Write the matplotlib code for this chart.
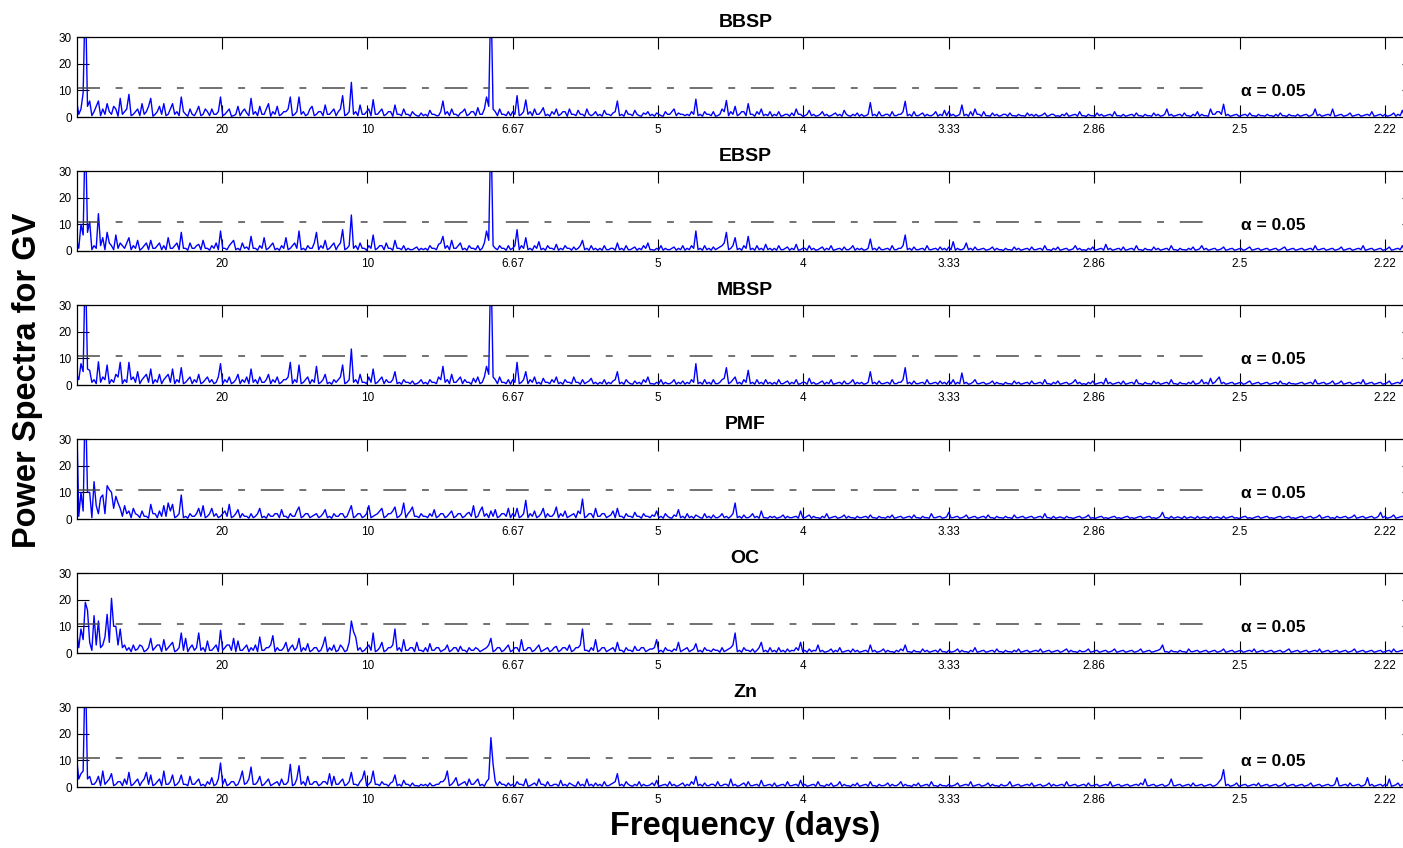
import numpy as np
import matplotlib
matplotlib.use("Agg")
import matplotlib.pyplot as plt

plt.rcParams['font.family'] = ['Liberation Sans', 'DejaVu Sans']

# spectral power per frequency bin (cycles/day, bin width FREQ_STEP)
FREQ_STEP = 0.00075
N_BINS = 614

bbsp = [
    6,1, 3,9, 48,4, 6,0.5, 2,4, 6,0.5, 3,1, 5,2, 1,4, 3,0.3, 7,1, 2,3, 8.5,0.5, 1,2, 3,0.5, 5,1, 2,4, 7,0.3, 1,2, 4,1,
    5,0.5, 1,3, 5,1, 2,0.5, 7.5,2, 1,0.3, 3,1, 0.5,2, 4,0.5, 1,3, 2,0.5, 3,1, 1,2, 7.5,0.5, 1,2, 3,0.3, 0.5,1, 4,0.5, 2,3, 1.5,0.5,
    7,1, 2,0.5, 4,1, 1,3, 5,0.3, 2,1, 4,0.5, 1,2, 2,3, 7.5,0.5, 1,2, 7.5,1, 2,0.5, 1,3, 4,0.5, 1,2, 2,0.5, 4.5,1, 1,2, 3,0.5,
    2,3, 8,0.5, 1,2, 13,1, 2,0.5, 4.5,1, 1,2, 3,0.5, 6.5,1, 1,2, 3,0.5, 1,2, 2,0.3, 4.5,1, 1,0.5, 3,1, 1,0.3, 2,1, 0.5,0.3, 1.5,0.5,
    1,0.3, 2.5,1, 1,0.5, 0.5,2, 6,1, 2,0.5, 3,1, 1,0.3, 1.5,2, 3,0.5, 1,2, 2,0.5, 3.5,1, 1,3, 7.5,4, 48,3, 2,0.5, 3,1, 1,0.5, 2,0.5,
    2,1, 8,0.5, 1,2, 6.4,1, 2,0.5, 3,1, 1,2, 3.5,0.5, 1,0.3, 2,1, 3,0.5, 1,2, 2,0.3, 3,1, 1,0.5, 2.5,1, 1,0.3, 3,1, 0.5,1, 2,0.5,
    1,0.3, 2.5,1, 1,0.5, 1.5,2, 6,0.5, 1,0.3, 2.5,1, 1,0.5, 2.5,1, 0.5,0.3, 1.5,1, 2,0.5, 1,0.3, 1.5,1, 0.5,0.3, 2,1, 1,2, 3,0.5, 1.5,1, 1,0.5,
    1,0.5, 2,1, 6.7,0.5, 1,0.3, 2,1, 1,0.5, 2,0.3, 0.5,1, 3,2, 6.2,0.5, 2,1, 4,0.5, 1,2, 2,0.5, 5,1, 1,0.3, 2,1, 3,0.5, 1,0.5, 2,0.3,
    1,0.5, 2,0.3, 0.5,1, 1,0.3, 1.5,0.5, 3,1, 1,0.3, 0.5,1, 2.5,0.5, 1,0.3, 0.5,1, 2,0.5, 1,0.3, 0.5,1, 1.5,0.5, 1,0.3, 2.5,1, 0.5,0.3, 1,0.5, 1.5,0.3,
    1,0.3, 0.5,1, 5.4,0.5, 1,0.3, 2,0.5, 0.5,1, 1,0.3, 2,0.5, 0.5,1, 1,2, 5.9,0.5, 1,0.3, 2,0.5, 0.5,1, 1.5,0.3, 1,0.5, 0.5,1, 2,0.3, 1,0.5, 2.5,0.5,
    2,0.5, 1,0.3, 0.5,1, 4.5,0.5, 1,0.3, 2,0.5, 3,1, 1,0.3, 2,0.5, 0.5,0.3, 1.5,0.5, 1,0.3, 0.5,1, 1,0.3, 1.5,0.5, 0.5,0.3, 1,0.5, 0.5,0.3, 1.5,0.5, 1,0.3,
    1,0.3, 0.5,0.8, 1.5,0.3, 0.5,1, 1,0.3, 0.5,0.2, 1,0.5, 1.5,0.3, 0.5,0.8, 1,0.3, 2,0.5, 0.5,0.2, 1,0.5, 0.5,0.3, 1.5,0.5, 1,0.3, 0.5,0.8, 1,0.3, 2,0.5, 0.5,0.3,
    1,0.3, 0.5,0.8, 1,0.3, 1.5,0.5, 0.5,0.2, 1,0.5, 0.5,0.3, 1.5,0.5, 1,0.3, 0.5,1, 3,0.5, 1,0.3, 0.5,0.8, 1,0.3, 1.5,0.5, 0.5,0.2, 1,0.5, 2,0.3, 1,0.5, 0.5,0.3,
    3,1, 1,2, 2,1, 4.8,0.5, 1,0.3, 0.5,0.8, 1,0.3, 0.5,0.8, 1,0.3, 1.5,0.5, 0.5,0.2, 1,0.5, 0.5,0.3, 1,0.5, 0.5,0.2, 1,0.3, 1.5,0.5, 0.5,0.2, 1,0.5, 0.5,0.3,
    1,0.3, 0.5,0.8, 1,0.3, 0.5,1, 3,0.5, 1,0.3, 0.5,0.8, 1,0.5, 3,0.3, 0.5,0.8, 1,0.3, 0.5,0.8, 1.5,0.3, 0.5,0.8, 1,0.3, 0.5,0.8, 1,0.5, 2,0.3, 0.5,0.8, 1,0.3,
    1,0.3, 0.5,0.8, 1.5,0.3, 1,0.5, 2.5,0.3, 0.5,0.8, 1,0.3,
]

ebsp = [
    4,1, 10,6, 48,7, 11,0.5, 2,1, 14,2, 5,0.5, 7,3, 2,0.5, 6,1, 3,2, 1,3, 5,0.5, 2,1, 4,0.3, 1,2, 3,0.5, 4,1, 1,2, 3,0.5,
    2,0.5, 5,1, 1,2, 3,0.5, 7,1, 1,0.3, 3,1, 1,2, 2.5,0.5, 4,1, 1,0.3, 2,1, 3,0.5, 7.5,1, 1,0.5, 2,3, 4,0.5, 1,0.3, 3,1, 1.5,0.5,
    5.5,1, 1,0.3, 2,1, 5,0.5, 1,2, 3,0.5, 1,0.3, 2,1, 5,0.5, 1,2, 3,1, 7.5,0.5, 1,0.3, 2,1, 1,3, 7,0.5, 2,1, 4,0.5, 1,2, 3,0.5,
    2,3, 8,0.5, 1,2, 13.5,1, 2,0.5, 3,1, 1,0.3, 2,1, 6,0.5, 1,2, 2,0.5, 3,1, 1,0.3, 4,1, 1,0.5, 2,0.3, 1,0.5, 0.5,1, 1.5,0.3, 1,0.5,
    1,0.3, 2,1, 1,0.5, 2.5,3, 5.5,1, 2,0.5, 4,1, 1,2, 3,0.5, 1,0.3, 2,1, 1,0.5, 2,0.3, 1,3, 7.5,4, 48,2, 1,0.5, 2,1, 1,0.3, 2,0.5,
    1,2, 8,0.5, 2,1, 5,0.5, 1,0.3, 2,1, 3.5,0.5, 1,0.3, 2,1, 1,0.5, 2.5,0.3, 1,0.5, 2,1, 1,0.3, 1.5,0.5, 1,2, 4,0.5, 1,0.3, 2,0.5, 1,0.3,
    1,0.3, 2,0.5, 0.5,1, 1,0.3, 3,0.5, 1,0.3, 2,0.5, 0.5,1, 1.5,0.3, 1,0.5, 2,1, 3,0.5, 0.5,0.3, 1,0.5, 2,0.3, 1,0.5, 0.5,1, 1.5,0.3, 1,0.5, 2,0.3,
    1,0.5, 2,1, 7.5,0.5, 1,0.3, 2,0.5, 1,0.3, 1.5,0.5, 1,1.5, 2,3, 7,0.5, 1,2, 5,0.5, 1,0.3, 2,1, 5.5,0.5, 1,0.3, 2,0.5, 1,0.3, 2.5,0.5, 1,0.3,
    1,0.3, 2,0.5, 0.5,1, 1.5,0.3, 1,0.5, 2.5,0.3, 0.5,1, 1,0.3, 2,0.5, 1,0.3, 0.5,1, 1.5,0.3, 1,0.5, 2,0.3, 0.5,0.8, 1,0.3, 1.5,0.5, 0.5,1, 2,0.3, 1,0.5,
    1,0.3, 0.5,1, 4.5,0.5, 1,0.3, 1.5,0.5, 0.5,0.8, 1,0.3, 2,0.5, 0.5,1, 1,2, 6,0.5, 1,0.3, 1.5,0.5, 0.5,0.8, 1,0.3, 2,0.5, 0.5,0.8, 1,0.3, 1.5,0.5, 1,0.3,
    1.5,0.5, 3.5,0.3, 1,0.5, 0.5,1, 3,0.5, 1,0.3, 1.5,0.5, 0.5,0.8, 1,0.3, 0.5,0.8, 1.5,0.3, 1,0.5, 0.5,0.2, 1,0.5, 0.5,0.3, 1.5,0.5, 1,0.3, 0.5,0.8, 1,0.3, 1.5,0.5,
    0.5,0.8, 1,0.3, 2,0.5, 0.5,0.2, 1,0.5, 1.5,0.3, 0.5,0.8, 1,0.3, 0.5,0.8, 2,0.5, 1,0.3, 0.5,0.2, 1,0.5, 1.5,0.3, 0.5,0.8, 1,0.3, 2.5,0.5, 1,0.3, 0.5,0.8, 1,0.3,
    1.5,0.3, 0.5,0.8, 1,0.3, 2,0.5, 0.5,0.2, 1,0.5, 0.5,0.3, 1.5,0.5, 1,0.3, 0.5,0.8, 1,0.3, 2,0.5, 0.5,0.2, 1,0.5, 0.5,0.3, 1,0.5, 1.5,0.3, 0.5,0.8, 2,0.5, 1,0.3,
    0.5,0.8, 1,0.3, 0.5,0.8, 1.5,0.3, 0.5,0.8, 1,0.3, 0.5,0.8, 1,0.3, 0.5,1, 1.5,0.3, 0.5,0.8, 1,0.3, 0.5,0.8, 1,0.3, 0.5,0.8, 1,0.3, 0.5,1, 1.5,0.3, 0.5,0.8, 1,0.3,
    0.5,0.8, 1,0.3, 0.5,0.8, 1,0.3, 2,0.5, 0.5,0.8, 1,0.3, 0.5,0.8, 1,0.3, 0.5,0.8, 1.5,0.3, 0.5,0.8, 1,0.3, 0.5,0.8, 1,0.5, 2,0.3, 0.5,0.8, 1,0.3, 0.5,0.8, 1,0.3,
    0.5,0.8, 1.5,0.3, 0.5,0.8, 1,0.5, 2,0.3, 0.5,0.8, 1,0.3,
]

mbsp = [
    4,2, 8,5, 48,6, 5.5,1, 2,0.5, 8.7,1, 3,2, 7.5,0.5, 2,1, 4,3, 8.5,0.5, 2,1, 8.5,2, 3,1, 5,0.5, 2,3, 4,1, 6,0.5, 2,1, 4,0.5,
    2,3, 4,1, 6,0.5, 2,1, 6.5,0.5, 1,2, 3,0.5, 2,1, 4,0.5, 1,2, 3,1, 2,0.5, 1,3, 8,0.5, 2,1, 3,0.5, 1,2, 4,0.5, 2,1, 3,0.5,
    6,1, 2,0.5, 3,1, 1,2, 4,0.5, 2,1, 3,0.5, 1,2, 2,3, 8.5,0.5, 2,1, 7.5,0.5, 1,2, 3,0.5, 2,1, 7,0.5, 1,2, 4,0.5, 1,0.3, 2,1,
    2,3, 7.5,0.5, 1,2, 13.5,1, 2,0.5, 4,1, 1,0.5, 3,1, 6,0.5, 1,2, 3,0.5, 2,1, 1,2, 5,0.5, 1,0.3, 2,1, 1,0.5, 1.5,0.3, 0.5,1, 2,0.5,
    1,0.3, 2,1, 1,0.5, 3,2, 7,1, 2,0.5, 4,1, 1,2, 3,0.5, 2,1, 1,0.3, 2.5,1, 3,0.5, 1,3, 7,4, 48,3, 2,0.5, 3,1, 1,0.5, 2,0.3,
    2,1, 8.5,0.5, 1,2, 5,0.5, 2,1, 3,0.5, 1,0.3, 2.5,1, 1,0.5, 2,1, 3,0.5, 1,0.3, 2,1, 1,0.5, 3,1, 1,0.3, 2,0.5, 1,1.5, 2.5,0.5, 1,0.3,
    1,0.5, 2,0.3, 1,0.5, 1.5,2, 5,0.5, 1,0.3, 2,1, 0.5,0.3, 1.5,0.5, 1,0.3, 2,1, 3,0.5, 0.5,0.3, 1,0.5, 2,0.3, 1,0.5, 0.5,1, 2,0.3, 1,0.5, 1.5,0.3,
    1,0.5, 2,1, 8,0.5, 1,0.3, 2,0.5, 1,0.3, 2,0.5, 0.5,1, 2,2.5, 6.5,0.5, 1,2, 3,0.5, 1,0.3, 2,1, 5.5,0.5, 1,0.3, 2,0.5, 1,0.3, 2,0.5, 1,0.3,
    1,0.3, 2,0.5, 0.5,1, 1.5,0.3, 1,0.5, 2,0.3, 0.5,1, 1,0.3, 2.5,0.5, 1,0.3, 0.5,1, 1.5,0.3, 1,0.5, 2,0.3, 0.5,0.8, 1,0.3, 1.5,0.5, 0.5,1, 2,0.3, 1,0.5,
    1,0.3, 0.5,1, 5,0.5, 1,0.3, 1.5,0.5, 0.5,0.8, 1,0.3, 2,0.5, 0.5,1, 1,2, 6.5,0.5, 1,0.3, 1.5,0.5, 0.5,0.8, 1,0.3, 2,0.5, 0.5,0.8, 1,0.3, 1.5,0.5, 1,0.3,
    1.5,0.5, 2,0.3, 1,0.5, 4.5,0.5, 1,0.3, 0.5,1, 2,0.5, 0.5,0.8, 1,0.3, 0.5,0.8, 1.5,0.3, 1,0.5, 0.5,0.2, 1,0.5, 0.5,0.3, 1.5,0.5, 1,0.3, 0.5,0.8, 1,0.3, 1.5,0.5,
    0.5,0.8, 1,0.3, 2,0.5, 0.5,0.2, 1,0.5, 1.5,0.3, 0.5,0.8, 1,0.3, 0.5,1, 2,0.5, 1,0.3, 0.5,0.2, 1,0.5, 1.5,0.3, 0.5,0.8, 1,0.3, 2.5,0.5, 1,0.3, 0.5,0.8, 1,0.3,
    1.5,0.3, 0.5,0.8, 1,0.3, 2,0.5, 0.5,0.2, 1,0.5, 0.5,0.3, 1.5,0.5, 1,0.3, 0.5,0.8, 1,0.3, 2,0.5, 0.5,0.2, 1,0.5, 0.5,0.3, 1,0.5, 1.5,0.3, 0.5,0.8, 2,0.5, 1,0.3,
    2.5,0.5, 1,2, 3,0.5, 1,0.3, 0.5,0.8, 1,0.3, 0.5,0.8, 1,0.3, 0.5,1, 1.5,0.3, 0.5,0.8, 1,0.3, 0.5,0.8, 1,0.3, 0.5,0.8, 1,0.3, 1.5,0.5, 0.5,0.2, 1,0.5, 0.5,0.3,
    0.5,0.8, 1,0.3, 0.5,0.8, 1,0.3, 2,0.5, 0.5,0.8, 1,0.3, 0.5,0.8, 1.5,0.3, 0.5,0.8, 1.5,0.3, 0.5,0.8, 1,0.3, 0.5,0.8, 1,0.5, 2,0.3, 0.5,0.8, 1,0.3, 0.5,0.8, 1,0.3,
    0.5,0.8, 1.5,0.3, 0.5,0.8, 1,0.5, 2,0.3, 1,0.5, 0.5,0.3,
]

pmf = [
    40,1, 10,3, 48,10, 10,0.5, 14,5, 2,8, 9,2, 12.5,11, 10,4, 8.5,6, 4,1, 5,2, 3,0.5, 4,2, 1.5,0.5, 3,1, 1,0.3, 5.5,2, 2,0.5, 3,1,
    5,1, 6,3, 5.5,0.5, 1,2, 9,0.5, 1,0.3, 2,1, 1,2, 4,1, 5,0.5, 1,2, 4,1, 2,0.5, 1,2, 3,1, 5.5,0.5, 1,2, 3.5,0.5, 2,1, 1,0.3,
    2,0.5, 1,2, 4,0.5, 1,0.3, 2,1, 1,2, 2,0.5, 3.5,1, 1,0.3, 2,1, 1,3, 4.5,0.5, 1,2, 2,0.5, 1,1.5, 2,0.5, 1,2, 3.5,0.5, 1,0.3, 2,1,
    1,2, 2,0.5, 1,3, 5,0.5, 1,2, 2,0.5, 1,2, 5,0.5, 1,1.5, 2,3, 4,0.5, 1,2, 2,3, 4.5,0.5, 1,2, 6,0.5, 2,3, 4.5,1, 1,0.5, 2,1,
    1,0.5, 2,1, 3.5,0.5, 1,2, 2,0.5, 1,2, 3,0.5, 1,2, 2,0.5, 1,2, 2.5,1, 5,0.5, 1,3, 4.5,1, 2,0.5, 3,1, 3.5,0.5, 1,2, 2,1, 4,0.5,
    2,1, 4,0.5, 1,2, 7,0.5, 2,1, 3,0.5, 1,2, 4,0.5, 2,1, 1,2, 4.5,0.5, 2,1, 3,0.5, 1,1.5, 2,0.5, 3,2, 7.5,0.5, 1,2, 2,0.5, 4,1,
    1,2, 2,0.5, 1,1.5, 3,0.5, 4,1, 1,0.3, 2,1, 1,0.5, 2.5,1, 1,0.3, 2,1, 1,0.5, 1.5,1, 3,0.5, 1,0.3, 2,1, 0.5,0.3, 1.5,1, 3.5,0.5, 1,0.3,
    2,0.5, 1,0.3, 1.5,1, 0.5,0.3, 2,0.5, 1,0.3, 1.5,0.5, 0.5,1, 2,0.5, 1,0.3, 1,2, 6,0.5, 1,0.3, 1.5,0.5, 0.5,1, 2,0.5, 1,0.3, 3,0.5, 0.5,0.3, 1,0.5,
    1,0.3, 0.5,0.8, 1.5,0.3, 1,0.5, 0.5,0.8, 1,0.3, 3,0.5, 0.5,1, 1.5,0.3, 1,0.5, 0.5,0.2, 1,0.5, 2,0.3, 0.5,0.8, 1,0.3, 0.5,0.8, 1.5,0.3, 1,0.5, 0.5,0.2, 1,0.5,
    0.5,0.8, 1,0.3, 1.5,0.5, 0.5,0.2, 1,0.5, 0.5,0.3, 1,0.5, 1.5,0.3, 0.5,0.8, 1,0.3, 0.5,0.8, 1,0.3, 1.5,0.5, 0.5,0.2, 1,0.5, 0.5,0.3, 2,0.5, 0.5,0.8, 1,0.3, 0.5,0.8,
    2.5,0.5, 0.5,0.8, 1,0.3, 0.5,0.8, 1.5,0.3, 0.5,0.8, 1,0.3, 0.5,0.8, 1,0.3, 1.5,0.5, 0.5,0.2, 1,0.5, 0.5,0.3, 1,0.5, 0.5,0.2, 1.5,0.5, 0.5,0.8, 1,0.3, 0.5,0.8, 1,0.3,
    0.5,0.8, 1,0.3, 2,0.5, 0.5,0.2, 1,0.3, 0.5,0.8, 0.5,0.2, 1,0.5, 0.5,0.2, 0.5,0.8, 1,0.3, 0.5,0.8, 1.5,0.3, 0.5,0.2, 0.5,0.8, 1,0.3, 0.5,0.2, 0.5,0.8, 1,0.3, 0.5,0.2,
    0.5,0.8, 1,0.3, 0.5,0.2, 0.5,0.8, 1,0.3, 0.5,0.8, 1,0.3, 0.5,0.2, 0.5,1, 2.5,0.5, 0.5,0.2, 1,0.3, 0.5,0.8, 0.5,0.2, 1,0.3, 0.5,0.8, 0.5,0.2, 1,0.3, 0.5,0.8, 0.5,0.2,
    1,0.3, 0.5,0.8, 0.5,0.2, 1,0.3, 0.5,0.8, 1,0.3, 0.5,0.2, 0.5,0.8, 1,0.3, 0.5,0.2, 0.5,0.8, 1,0.3, 0.5,0.8, 1,0.3, 0.5,0.2, 0.5,0.8, 1,0.3, 0.5,0.8, 1,0.3, 0.5,0.2,
    0.5,0.8, 1,0.3, 0.5,0.8, 1,0.3, 0.5,0.8, 1.5,0.3, 0.5,0.8, 1,0.3, 0.5,0.2, 1,0.5, 0.5,0.8, 1,0.3, 0.5,0.8, 1.5,0.3, 0.5,0.8, 1,0.3, 0.5,0.8, 1,0.3, 0.5,1, 2.5,0.5,
    1,0.3, 0.5,0.8, 1.5,0.3, 0.5,0.8, 1,0.3, 0.5,0.8, 1,0.3,
]

oc = [
    8,2, 9,5, 19,16, 4,1, 14,3, 12,2, 3,6, 14.5,4, 20.5,10, 10,3, 9,2, 3,1, 2,0.5, 3,1, 1.5,3, 2.5,0.5, 1,2, 5.5,1, 2,3, 3,0.5,
    5,1, 2,3, 4,0.5, 1,2, 7.5,1, 5.5,0.5, 2,3, 1,2, 7.5,1, 2,0.5, 4.5,1, 1,2, 3,0.5, 8.5,1, 2,3, 3,1, 5.5,0.5, 4.5,1, 1,2, 3,0.5,
    2,1, 3,0.5, 6,1, 1,2, 2,3, 6.5,0.5, 2,1, 1,2, 4,0.5, 2,3, 1,2, 5.5,0.5, 2,1, 3.5,0.5, 1,2, 2,0.5, 1,3, 6,0.5, 2,1, 3,0.5,
    1,3, 2,0.5, 1,4, 12,8, 6,1, 2,0.5, 1,2, 3,1, 7.5,0.5, 1,2, 4,0.5, 1,2, 2,3, 9,1, 2,0.5, 5,1, 1,2, 2,0.5, 4,1, 1,0.5,
    2,0.5, 3.5,1, 1,2, 2,0.5, 1,1.5, 3,0.5, 1,2, 2,0.5, 2.5,1, 1,0.3, 2,1, 1,2, 1.5,0.5, 1,1.5, 2,3, 5.5,0.5, 1,2, 2,0.5, 1,2, 3,0.5,
    1,2, 2,0.5, 5,1, 1,2, 2,0.5, 1,2, 3,0.5, 1,1.5, 2,0.5, 1,2, 2.5,0.5, 1,2, 2,1, 3,0.5, 1,2, 2,3, 9,1, 1,0.5, 2,1, 5,0.5,
    1,2, 2,0.5, 1,1.5, 2,0.5, 4,1, 1,0.3, 2,1, 1,0.5, 2.5,1, 1,2, 2,0.5, 1,1.5, 1.5,2, 5,0.5, 1,0.3, 2,1, 1,0.5, 1.5,1, 4,0.5, 1,1.5,
    2,0.5, 1,1.5, 3.5,0.5, 1,0.3, 2,1, 1,0.5, 1.5,1, 1,0.3, 2,0.5, 1,1.5, 2,3, 7.5,0.5, 1,0.3, 2,1, 1,0.5, 1.5,0.3, 1,2, 4,0.5, 1,0.3, 2,0.5,
    1,0.3, 2,0.5, 1,0.3, 1.5,0.5, 1,0.8, 2,1, 4,0.5, 1,0.3, 1.5,0.5, 1,0.8, 3,0.5, 1,0.3, 0.5,0.8, 1.5,0.3, 1,0.5, 2,0.3, 0.5,0.8, 1,0.3, 1.5,0.5, 1,0.3,
    0.5,0.8, 1,0.3, 3,0.5, 1,0.3, 0.5,0.8, 1.5,0.3, 1,0.5, 0.5,0.2, 1,0.5, 1.5,0.8, 3,0.5, 0.5,0.2, 1,0.5, 0.5,0.3, 1.5,0.5, 1,0.3, 0.5,0.8, 1,0.3, 1.5,0.5, 0.5,0.2,
    1,0.3, 0.5,0.8, 1.5,0.3, 1,0.5, 0.5,0.2, 1,0.5, 2,0.3, 0.5,0.8, 1,0.3, 0.5,0.8, 1,0.3, 1.5,0.5, 0.5,0.2, 1,0.5, 0.5,0.3, 1,0.5, 1.5,0.3, 0.5,0.8, 1,0.3, 0.5,0.8,
    1,0.5, 1.5,0.3, 0.5,0.8, 1,0.3, 0.5,0.8, 1,0.3, 0.5,1, 1.5,0.3, 1,0.5, 0.5,0.2, 1,0.5, 0.5,0.8, 1.5,0.3, 0.5,0.8, 1,0.3, 0.5,0.8, 1,0.3, 0.5,0.8, 1.5,0.3, 0.5,0.8,
    1,0.3, 0.5,0.8, 1,0.3, 0.5,0.8, 1.5,0.3, 0.5,0.8, 1,0.3, 0.5,0.8, 1,1.5, 3,0.5, 0.5,0.2, 1,0.5, 0.5,0.3, 1,0.5, 0.5,0.2, 1.5,0.5, 0.5,0.8, 1,0.3, 0.5,0.8, 1,0.3,
    0.5,0.8, 1,0.3, 0.5,0.8, 1.5,0.3, 0.5,0.8, 1,0.3, 0.5,0.8, 1,0.3, 0.5,0.8, 1,0.5, 1.5,0.3, 0.5,0.8, 1,0.3, 0.5,0.8, 1,0.3, 0.5,0.8, 1,0.3, 0.5,1, 1.5,0.3, 0.5,0.8,
    1,0.3, 0.5,0.8, 1,0.3, 0.5,0.8, 1,0.5, 1.5,0.3, 0.5,0.8, 1,0.3, 0.5,0.8, 1,0.3, 0.5,0.8, 1,0.3, 0.5,0.8, 1.5,0.3, 0.5,0.8, 1,0.3, 0.5,0.8, 1,0.3, 0.5,0.8, 1,0.3,
    0.5,0.8, 1,0.3, 1.5,0.5, 0.5,0.8, 1,0.3, 0.5,0.8, 1,0.3,
]

zn = [
    11,3, 5,6, 48,3, 4,1, 1,2, 4,0.5, 6,1, 2,3, 5,0.5, 1,2, 2,0.5, 3,1, 5.5,0.5, 1,2, 3,0.5, 2,3, 5.5,1, 4.5,0.5, 1,2, 3,0.5,
    6,1, 1,2, 4.5,0.5, 1,2, 4.5,1, 1,0.5, 4,1, 1,2, 3,0.5, 1,0.3, 2,1, 3.5,0.5, 1,3, 9,1, 3,0.5, 1,2, 2,0.5, 1,3, 6,1, 1.5,3,
    7.5,1, 1,2, 4,0.5, 1,2, 3,0.5, 1,1.5, 2,0.5, 3,1, 1,2, 8.5,0.5, 1,3, 8,1, 2,0.5, 4,1, 1,2, 2,0.5, 1,2, 2,1, 5,0.5, 4,1,
    1,2, 3,0.5, 1,2, 5.5,1, 1,0.5, 2,3, 6,0.5, 1,2, 6,1, 1,0.5, 2,1, 1,0.3, 1.5,2, 4.5,0.5, 1,0.3, 2.5,1, 1,0.3, 1.5,0.5, 0.5,0.3, 1,0.5,
    1,0.3, 1.5,0.5, 0.5,1, 1,2, 2,3, 6,0.5, 1,2, 3.5,0.5, 1,1.5, 2,0.5, 3,1, 1,2, 3,0.5, 1,0.3, 2,3, 18.5,8.5, 2,0.5, 2,1, 1,0.3, 1.5,0.5,
    1,0.3, 2,1, 1,0.5, 3,0.3, 0.5,1, 1.5,0.5, 3,1, 1,0.3, 2,0.5, 0.5,1, 1,0.3, 2.5,0.5, 1,0.3, 1.5,1, 0.5,0.3, 2,0.5, 1,0.3, 3,0.5, 1,0.3, 1.5,0.5,
    1,0.3, 2,0.5, 0.5,1, 1.5,2, 5,0.5, 1,0.3, 2,1, 0.5,0.3, 1,0.5, 2,0.3, 1,0.5, 0.5,0.8, 1.5,0.5, 2.5,0.3, 0.5,0.8, 1,0.3, 2,0.5, 1,0.3, 0.5,1, 1.5,0.3,
    1,0.5, 2,1, 4,0.5, 1,0.3, 1.5,0.5, 0.5,1, 1,0.3, 2,0.5, 0.5,1, 1,0.3, 3,0.5, 1,0.3, 0.5,1, 1.5,0.3, 2,0.5, 0.5,0.8, 1,0.3, 2.5,0.5, 0.5,0.8, 1,0.3,
    1.5,0.3, 0.5,0.8, 1,0.3, 2,0.5, 0.5,0.8, 1,0.3, 2.5,0.5, 1,0.3, 0.5,0.8, 1,0.3, 2,0.5, 0.5,0.2, 1,0.5, 1.5,0.3, 0.5,0.8, 2,0.3, 1,0.5, 0.5,0.2, 1,0.5, 1.5,0.3,
    0.5,0.8, 1,0.3, 2,0.5, 0.5,0.2, 1,0.5, 0.5,0.8, 1.5,0.3, 1,0.5, 0.5,1, 2,0.3, 1,0.5, 0.5,0.2, 1,0.5, 1.5,0.3, 0.5,0.8, 1,0.3, 2,0.5, 0.5,0.2, 1,0.5, 0.5,0.3,
    1,0.3, 0.5,0.8, 1.5,0.3, 0.5,0.8, 1,0.5, 2,0.3, 0.5,0.8, 1,0.3, 0.5,0.8, 1.5,0.3, 1,0.5, 0.5,0.2, 1,0.5, 0.5,0.8, 2,0.3, 0.5,0.8, 1,0.3, 0.5,0.8, 1,0.5, 1.5,0.3,
    0.5,0.8, 1,0.3, 0.5,0.8, 1.5,0.3, 1,0.5, 0.5,0.8, 1,0.3, 2,0.5, 0.5,0.8, 1,0.3, 0.5,0.8, 1,0.3, 1.5,0.5, 0.5,0.8, 1,0.3, 0.5,0.8, 1,0.5, 2,0.3, 0.5,0.8, 1,0.3,
    0.5,0.8, 1,0.3, 0.5,0.8, 1,0.5, 1.5,0.8, 3,0.5, 0.5,0.8, 1,0.3, 0.5,0.8, 1,0.3, 0.5,1, 3,0.5, 0.5,0.8, 1,0.3, 0.5,0.8, 1,0.3, 1.5,0.5, 0.5,0.8, 1,0.3, 0.5,0.8,
    1,0.3, 0.5,1, 2,3, 6.5,0.5, 1,0.3, 0.5,0.8, 1.5,0.3, 0.5,0.8, 1,0.3, 0.5,0.8, 1,0.5, 1.5,0.3, 0.5,0.8, 1,0.3, 0.5,0.8, 1,0.3, 0.5,0.8, 1.5,0.3, 0.5,0.8, 1,0.3,
    0.5,0.8, 1,0.3, 0.5,0.8, 1.5,0.3, 0.5,0.8, 1,0.3, 0.5,0.8, 1,0.5, 0.5,1, 3.5,0.5, 0.5,0.8, 1,0.3, 1.5,0.5, 0.5,0.8, 1,0.3, 0.5,1, 3.5,0.5, 1,0.3, 0.5,0.8, 1,0.3,
    1,0.5, 3,0.3, 0.5,0.8, 1.5,0.3, 1,0.5, 0.5,0.8, 1,0.3,
]

TITLES = ['BBSP', 'EBSP', 'MBSP', 'PMF', 'OC', 'Zn']
SPECTRA = [bbsp, ebsp, mbsp, pmf, oc, zn]
for name, vals in zip(TITLES, SPECTRA):
    assert len(vals) == N_BINS, (name, len(vals))

TICK_FREQS = [0.05, 0.10, 0.15, 0.20, 0.25, 0.30, 0.35, 0.40, 0.45]
PERIOD_LABELS = ['20', '10', '6.67', '5', '4', '3.33', '2.86', '2.5', '2.22']
Y_TICKS = [0, 10, 20, 30]
SIG_LEVEL = 10.9
SIG_END = 0.3888
SIG_TEXT = 'α = 0.05'

FIG_W, FIG_H = 1403, 848
fig = plt.figure(figsize=(FIG_W / 100, FIG_H / 100), dpi=100)

left_px, right_px = 76.6, 1414.0
panel_h = 80
for k, (name, vals) in enumerate(zip(TITLES, SPECTRA)):
    top_px = 37 + 134 * k
    ax = fig.add_axes([left_px / FIG_W, 1 - (top_px + panel_h) / FIG_H,
                       (right_px - left_px) / FIG_W, panel_h / FIG_H])
    vals = np.asarray(vals, dtype=float)
    freq = np.arange(len(vals)) * FREQ_STEP
    ax.plot(freq, vals, color='#0000ff', lw=1.0)
    ax.plot([0, SIG_END], [SIG_LEVEL, SIG_LEVEL], color='#4a4a4a', lw=1.1,
            linestyle=(0, (15.0, 10.3, 4.5, 10.3)))
    ax.text(0.4005, SIG_LEVEL - 1.2, SIG_TEXT, fontsize=12.5, fontweight='bold',
            ha='left', va='center')
    ax.set_xlim(0, 0.46)
    ax.set_ylim(0, 30)
    ax.set_xticks(TICK_FREQS)
    ax.set_xticklabels(PERIOD_LABELS)
    ax.set_yticks(Y_TICKS)
    ax.tick_params(axis='both', direction='in', length=8.6, width=0.8,
                   top=True, right=True, labelsize=8.5, colors='black')
    ax.tick_params(axis='x', pad=5)
    ax.tick_params(axis='y', pad=3.5)
    for sp in ax.spines.values():
        sp.set_linewidth(0.9)
    ax.set_title(name, fontsize=14, fontweight='bold', pad=7)

fig.text(745 / FIG_W, 1 - 827 / FIG_H, 'Frequency (days)', fontsize=23.5,
         fontweight='bold', ha='center', va='center')
fig.text(28 / FIG_W, 1 - 380 / FIG_H, 'Power Spectra for GV', fontsize=23.5,
         fontweight='bold', ha='center', va='center', rotation=90)

fig.savefig('out.png', dpi=100)
